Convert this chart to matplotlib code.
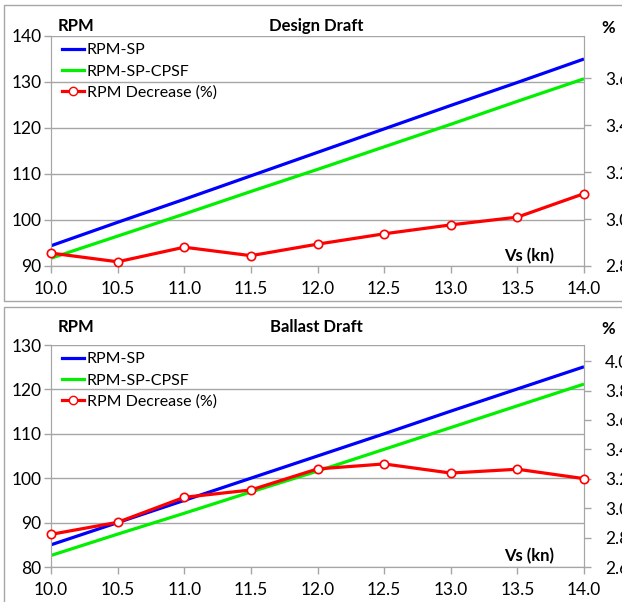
import numpy as np
import matplotlib
matplotlib.use('Agg')
import matplotlib.pyplot as plt
from matplotlib.lines import Line2D
from matplotlib.patches import Rectangle

plt.rcParams['font.family'] = ['Lato', 'DejaVu Sans']

# ship speed (kn)
vs = [10.0, 10.5, 11.0, 11.5, 12.0, 12.5, 13.0, 13.5, 14.0]

# Design Draft
design_rpm_sp = [94.4, 99.5, 104.5, 109.6, 114.7, 119.8, 124.9, 129.9, 135.0]
design_rpm_cpsf = [91.7, 96.5, 101.3, 106.2, 111.0, 115.9, 120.8, 125.8, 130.7]
design_decrease = [2.855, 2.818, 2.880, 2.844, 2.893, 2.937, 2.975, 3.008, 3.108]

# Ballast Draft
ballast_rpm_sp = [85.0, 90.0, 95.0, 100.0, 105.0, 110.0, 115.1, 120.1, 125.1]
ballast_rpm_cpsf = [82.6, 87.4, 92.1, 96.9, 101.6, 106.5, 111.4, 116.3, 121.2]
ballast_decrease = [2.822, 2.904, 3.074, 3.124, 3.267, 3.301, 3.239, 3.265, 3.201]

W, H = 622, 602
GRAY = '#A6A6A6'
BLUE = '#0000FF'
GREEN = '#00F000'
RED = '#FF0000'


def fx(px):
    return px / W


def fy(py):
    return 1 - py / H


def draw_panel(fig, box, rpm_sp, rpm_cpsf, dec, ylim, yticks, y2lim, y2ticks, title, labels_y):
    left, top, right, bottom = box
    ax = fig.add_axes([fx(left), fy(bottom), fx(right) - fx(left), fy(top) - fy(bottom)])
    ax.plot(vs, rpm_sp, color=BLUE, lw=2.3, solid_capstyle='butt')
    ax.plot(vs, rpm_cpsf, color=GREEN, lw=2.3, solid_capstyle='butt')
    ax.set_xlim(10, 14)
    ax.set_ylim(*ylim)
    ax.set_yticks(yticks)
    ax.set_xticks(vs)
    ax.set_xticklabels(['%.1f' % v for v in vs])
    ax.grid(axis='y', color=GRAY, lw=1)
    ax.set_axisbelow(True)
    for s in ['left', 'bottom', 'right', 'top']:
        ax.spines[s].set_color(GRAY)
    ax.spines['top'].set_visible(False)
    ax.tick_params(axis='y', direction='out', length=5, color=GRAY, width=1,
                   labelsize=12.5, pad=2)
    ax.tick_params(axis='x', direction='out', length=5, color=GRAY, width=1,
                   labelsize=12.5, pad=6)

    ax2 = ax.twinx()
    ax2.plot(vs, dec, color=RED, lw=2.3, marker='o', markersize=6,
             markerfacecolor='white', markeredgecolor=RED, markeredgewidth=1.2,
             clip_on=False, zorder=5)
    ax2.set_ylim(*y2lim)
    ax2.set_yticks(y2ticks)
    ax2.set_yticklabels(['%.1f' % v for v in y2ticks])
    for s in ['left', 'bottom', 'right', 'top']:
        ax2.spines[s].set_color(GRAY)
    ax2.spines['top'].set_visible(False)
    ax2.tick_params(axis='y', direction='out', length=5, color=GRAY, width=1,
                    labelsize=12.5, pad=10)

    handles = [Line2D([], [], color=BLUE, lw=2.3),
               Line2D([], [], color=GREEN, lw=2.3),
               Line2D([], [], color=RED, lw=2.3, marker='o', markersize=6,
                      markerfacecolor='white', markeredgecolor=RED)]
    ax2.legend(handles, ['RPM-SP', 'RPM-SP-CPSF', 'RPM Decrease (%)'],
               loc='upper left', bbox_to_anchor=(fx(left + 11), fy(top + 7)),
               bbox_transform=fig.transFigure, frameon=False, fontsize=11.5,
               handlelength=1.4, handletextpad=0.15, labelspacing=0.45,
               borderaxespad=0, borderpad=0)

    ty, vy = labels_y
    fig.text(fx(76), fy(ty), 'RPM', ha='center', va='center', fontsize=12, fontweight='bold')
    fig.text(fx(316), fy(ty), title, ha='center', va='center', fontsize=12, fontweight='bold')
    fig.text(fx(608), fy(ty + 2), '%', ha='center', va='center', fontsize=12, fontweight='bold')
    fig.text(fx(529), fy(vy), 'Vs (kn)', ha='center', va='center', fontsize=12, fontweight='bold')
    return ax, ax2


fig = plt.figure(figsize=(W / 100, H / 100), dpi=100)

# chart borders
fig.patches.append(Rectangle((fx(4), fy(301)), 1, fy(5) - fy(301), transform=fig.transFigure,
                             fill=False, edgecolor=GRAY, lw=1))
fig.patches.append(Rectangle((fx(4), fy(H + 5)), 1, fy(307) - fy(H + 5), transform=fig.transFigure,
                             fill=False, edgecolor=GRAY, lw=1))

draw_panel(fig, (51, 36, 584, 266), design_rpm_sp, design_rpm_cpsf, design_decrease,
           (90, 140), [90, 100, 110, 120, 130, 140],
           (2.8, 3.779), [2.8, 3.0, 3.2, 3.4, 3.6],
           'Design Draft', (26, 256))

draw_panel(fig, (51, 345, 584, 567), ballast_rpm_sp, ballast_rpm_cpsf, ballast_decrease,
           (80, 130), [80, 90, 100, 110, 120, 130],
           (2.6, 4.11), [2.6, 2.8, 3.0, 3.2, 3.4, 3.6, 3.8, 4.0],
           'Ballast Draft', (327, 556))

fig.savefig('out.png', dpi=100)
